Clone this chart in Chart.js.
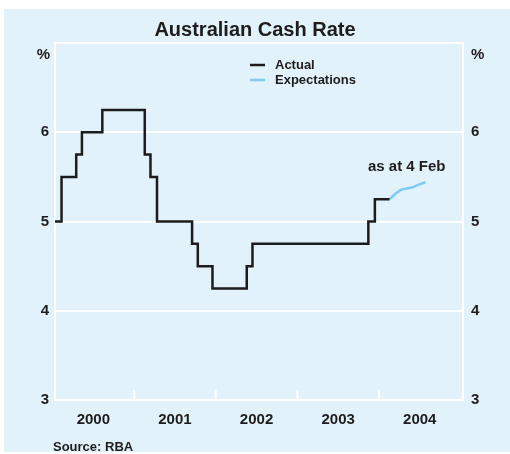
<!DOCTYPE html>
<html>
<head>
<meta charset="utf-8">
<script src="https://cdn.jsdelivr.net/npm/chart.js@4"></script>
<style>
    body { margin: 0; background: #fff; }
    #wrap { position: absolute; left: 4px; top: 9px; width: 506px; height: 443px; background: rgb(225, 242, 250); }
</style>
</head>
<body>
<div id="wrap"><canvas id="myChart" width="506" height="443"></canvas></div>
<script>
// cash rate target: date of each change (decimal years) and new rate
const actualDates = [2000.0, 2000.11, 2000.29, 2000.36, 2000.61, 2001.13, 2001.20, 2001.28, 2001.71, 2001.78, 2001.96, 2002.38, 2002.45, 2003.87, 2003.95, 2004.13];
const actualRates = [5.0, 5.5, 5.75, 6.0, 6.25, 5.75, 5.5, 5.0, 4.75, 4.5, 4.25, 4.5, 4.75, 5.0, 5.25, 5.25];

// market expectations as at 4 Feb
const expDates = [2004.13, 2004.19, 2004.26, 2004.34, 2004.42, 2004.48, 2004.57];
const expRates = [5.25, 5.30, 5.35, 5.37, 5.385, 5.41, 5.44];

const yearLabels = ['2000', '2001', '2002', '2003', '2004'];
const yearStarts = [2001, 2002, 2003, 2004];

const textColour = '#1f1c1d';
const font = 'Liberation Sans, Arial, sans-serif';

Chart.defaults.font.family = font;
Chart.defaults.font.weight = 'bold';
Chart.defaults.color = textColour;

const toPoints = (xs, ys) => xs.map((x, i) => ({ x: x, y: ys[i] }));

const extras = {
    id: 'extras',
    beforeDatasetsDraw(chart) {
        const { ctx, chartArea, scales } = chart;
        // short year marks rising from the bottom axis
        ctx.save();
        ctx.strokeStyle = '#fff';
        ctx.lineWidth = 2;
        yearStarts.forEach(yr => {
            const x = scales.x.getPixelForValue(yr);
            ctx.beginPath();
            ctx.moveTo(x, chartArea.bottom);
            ctx.lineTo(x, chartArea.bottom - 10);
            ctx.stroke();
        });
        ctx.restore();
    },
    afterDatasetsDraw(chart) {
        const { ctx } = chart;
        ctx.save();
        ctx.fillStyle = textColour;
        ctx.textBaseline = 'middle';

        ctx.font = 'bold 20px ' + font;
        ctx.textAlign = 'center';
        ctx.fillText('Australian Cash Rate', 251, 21);

        ctx.font = 'bold 15px ' + font;
        ctx.textAlign = 'right';
        ctx.fillText('%', 46, 46);
        ctx.textAlign = 'left';
        ctx.fillText('%', 467, 46);

        ctx.fillText('as at 4 Feb', 364, 158);

        // legend
        ctx.font = 'bold 13px ' + font;
        chart.data.datasets.forEach((ds, i) => {
            const y = 56 + i * 15;
            ctx.strokeStyle = ds.borderColor;
            ctx.lineWidth = 2.5;
            ctx.beginPath();
            ctx.moveTo(246, y);
            ctx.lineTo(261, y);
            ctx.stroke();
            ctx.fillText(ds.label, 271, y);
        });

        ctx.fillText('Source: RBA', 49, 438);
        ctx.restore();
    }
};

const yTicks = {
    font: { size: 15, weight: 'bold' },
    color: textColour,
    stepSize: 1,
    callback: v => v === 7 ? '' : v
};

const ctx = document.getElementById('myChart').getContext('2d');
const myChart = new Chart(ctx, {
    type: 'line',
    data: {
        datasets: [{
            label: 'Actual',
            data: toPoints(actualDates, actualRates),
            borderColor: '#1c1c1e',
            borderWidth: 2.5,
            stepped: true,
            pointRadius: 0,
            fill: false
        }, {
            label: 'Expectations',
            data: toPoints(expDates, expRates),
            borderColor: '#7ccbf0',
            borderWidth: 2.5,
            tension: 0.3,
            pointRadius: 0,
            fill: false
        }]
    },
    options: {
        responsive: false,
        animation: false,
        devicePixelRatio: 1,
        layout: { padding: { top: 34, left: 0, right: 0, bottom: 0 } },
        plugins: { legend: { display: false }, tooltip: { enabled: false } },
        scales: {
            x: {
                type: 'linear',
                min: 2000.03,
                max: 2005.03,
                grid: { display: false },
                border: { display: false },
                afterBuildTicks: scale => {
                    scale.ticks = yearLabels.map((l, i) => ({ value: 2000.5 + i }));
                },
                afterFit: scale => { scale.height = 52; },
                ticks: {
                    font: { size: 15, weight: 'bold' },
                    color: textColour,
                    padding: 3,
                    maxRotation: 0,
                    autoSkip: false,
                    callback: (v, i) => yearLabels[i]
                }
            },
            y: {
                position: 'left',
                min: 3,
                max: 7,
                grid: { color: '#fff', lineWidth: 2, drawTicks: false },
                border: { color: '#fff', width: 2 },
                afterFit: scale => { scale.width = 51; },
                ticks: Object.assign({ padding: 6 }, yTicks)
            },
            y2: {
                position: 'right',
                min: 3,
                max: 7,
                grid: { display: false, drawTicks: false },
                border: { color: '#fff', width: 2 },
                afterFit: scale => { scale.width = 47; },
                ticks: Object.assign({ padding: 8 }, yTicks)
            }
        }
    },
    plugins: [extras]
});
</script>
</body>
</html>
